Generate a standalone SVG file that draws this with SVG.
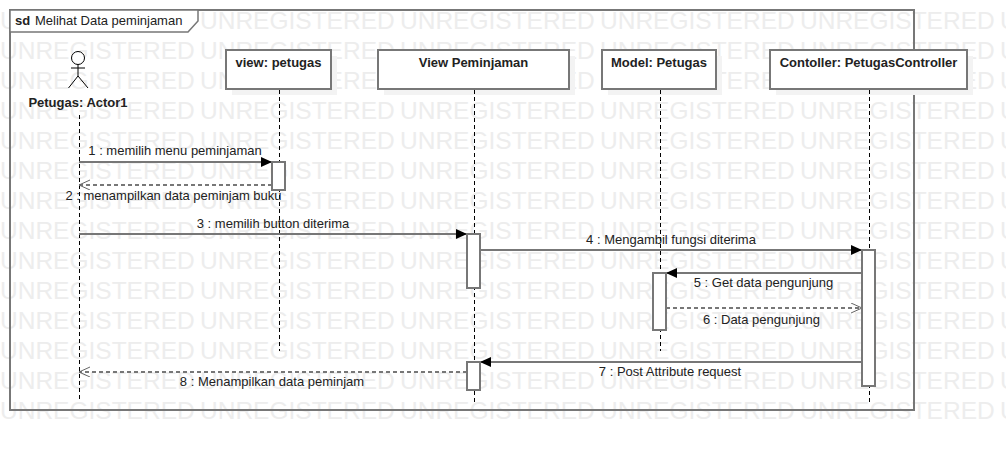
<svg xmlns="http://www.w3.org/2000/svg" xmlns:xlink="http://www.w3.org/1999/xlink" width="1006" height="450" viewBox="0 0 1006 450">
<style>
text{font-family:"Liberation Sans",Arial,sans-serif;font-size:13px;fill:#222}
.wm{font-size:24.5px;fill:#ededed}
.box{fill:#fff;stroke:#777;stroke-width:2}
.shadow{fill:#f3f3f3}
.life{stroke:#000;stroke-width:1;stroke-dasharray:4 3;fill:none}
.msg{stroke:#777;stroke-width:2;fill:none}
.ret{stroke:#777;stroke-width:2;stroke-dasharray:4 3;fill:none}
.name{font-weight:bold;text-anchor:middle}
.lbl{text-anchor:middle}
</style>
<defs>
<marker id="solid" markerUnits="userSpaceOnUse" markerWidth="12" markerHeight="10" refX="11" refY="5" orient="auto"><path d="M0 0L11 5L0 10Z" fill="#000"/></marker>
<marker id="open" markerUnits="userSpaceOnUse" markerWidth="12" markerHeight="12" refX="11" refY="5" orient="auto"><path d="M0 0L11 5L0 10" fill="none" stroke="#666" stroke-width="1"/></marker>
<g id="wmrow"><text class="wm" x="0" y="0">UNREGISTERED</text><text class="wm" x="200" y="0">UNREGISTERED</text><text class="wm" x="400" y="0">UNREGISTERED</text><text class="wm" x="600" y="0">UNREGISTERED</text><text class="wm" x="800" y="0">UNREGISTERED</text><text class="wm" x="1000" y="0">UNREGISTERED</text></g>
</defs>
<rect width="1006" height="450" fill="#fff"/>
<g id="watermark">
<use xlink:href="#wmrow" y="29"/><use xlink:href="#wmrow" y="59"/><use xlink:href="#wmrow" y="89"/><use xlink:href="#wmrow" y="119"/><use xlink:href="#wmrow" y="149"/><use xlink:href="#wmrow" y="179"/><use xlink:href="#wmrow" y="209"/><use xlink:href="#wmrow" y="239"/><use xlink:href="#wmrow" y="269"/><use xlink:href="#wmrow" y="299"/><use xlink:href="#wmrow" y="329"/><use xlink:href="#wmrow" y="359"/><use xlink:href="#wmrow" y="389"/><use xlink:href="#wmrow" y="419"/>
</g>
<g id="frame">
<rect x="10" y="10" width="904" height="400" fill="none" stroke="#777" stroke-width="2"/>
<path d="M10 10H198V21L188 32H10Z" fill="#fff" stroke="#777" stroke-width="1.500"/>
<text x="15" y="25" style="font-weight:bold">sd</text>
<text x="35" y="25">Melihat Data peminjaman</text>
</g>
<g id="node-actor">
<circle cx="78" cy="58" r="6.500" fill="#fff" stroke="#000"/>
<path d="M78 64.500V76M71 68H85M68.500 88L78 76L88 88" fill="none" stroke="#000"/>
<text class="name" x="78" y="107">Petugas: Actor1</text>
</g>
<g id="node-view-petugas">
<rect class="shadow" x="232" y="56" width="105" height="39"/>
<rect class="box" x="226" y="50" width="105" height="39"/>
<text class="name" x="278.500" y="67">view: petugas</text>
</g>
<g id="node-view-peminjaman">
<rect class="shadow" x="384" y="56" width="191" height="39"/>
<rect class="box" x="378" y="50" width="191" height="39"/>
<text class="name" x="473.500" y="67">View Peminjaman</text>
</g>
<g id="node-model">
<rect class="shadow" x="608" y="56" width="114" height="39"/>
<rect class="box" x="602" y="50" width="114" height="39"/>
<text class="name" x="659" y="67">Model: Petugas</text>
</g>
<g id="node-controller">
<rect class="shadow" x="776" y="56" width="197" height="39"/>
<rect class="box" x="770" y="50" width="197" height="39"/>
<text class="name" x="868.500" y="67">Contoller: PetugasController</text>
</g>
<g id="connectors">
<path class="life" d="M79.500 115V401"/>
<path class="life" d="M279.500 90V351"/>
<path class="life" d="M474.500 90V404"/>
<path class="life" d="M660.500 90V351"/>
<path class="life" d="M869.500 90V404"/>
<path class="msg" d="M79 162H272" marker-end="url(#solid)"/>
<path class="ret" d="M272 185H79" marker-end="url(#open)"/>
<path class="msg" d="M79 234H467" marker-end="url(#solid)"/>
<path class="msg" d="M480 250H862" marker-end="url(#solid)"/>
<path class="msg" d="M862 273H666" marker-end="url(#solid)"/>
<path class="ret" d="M666 308H862" marker-end="url(#open)"/>
<path class="msg" d="M862 362H480" marker-end="url(#solid)"/>
<path class="ret" d="M467 372H79" marker-end="url(#open)"/>
</g>
<g id="activations">
<rect class="box" x="272" y="162" width="13" height="28"/>
<rect class="box" x="467" y="234" width="13" height="54"/>
<rect class="box" x="467" y="362" width="13" height="28"/>
<rect class="box" x="653" y="273" width="13" height="57"/>
<rect class="box" x="862" y="250" width="13" height="136"/>
</g>
<g id="labels">
<text class="lbl" x="175" y="155">1 : memilih menu peminjaman</text>
<text class="lbl" x="173.500" y="200">2 : menampilkan data peminjam buku</text>
<text class="lbl" x="273" y="228">3 : memilih button diterima</text>
<text class="lbl" x="671" y="244">4 : Mengambil fungsi diterima</text>
<text class="lbl" x="763.500" y="287">5 : Get data pengunjung</text>
<text class="lbl" x="761.500" y="324">6 : Data pengunjung</text>
<text class="lbl" x="670" y="376">7 : Post Attribute request</text>
<text class="lbl" x="272" y="386">8 : Menampilkan data peminjam</text>
</g>
</svg>
